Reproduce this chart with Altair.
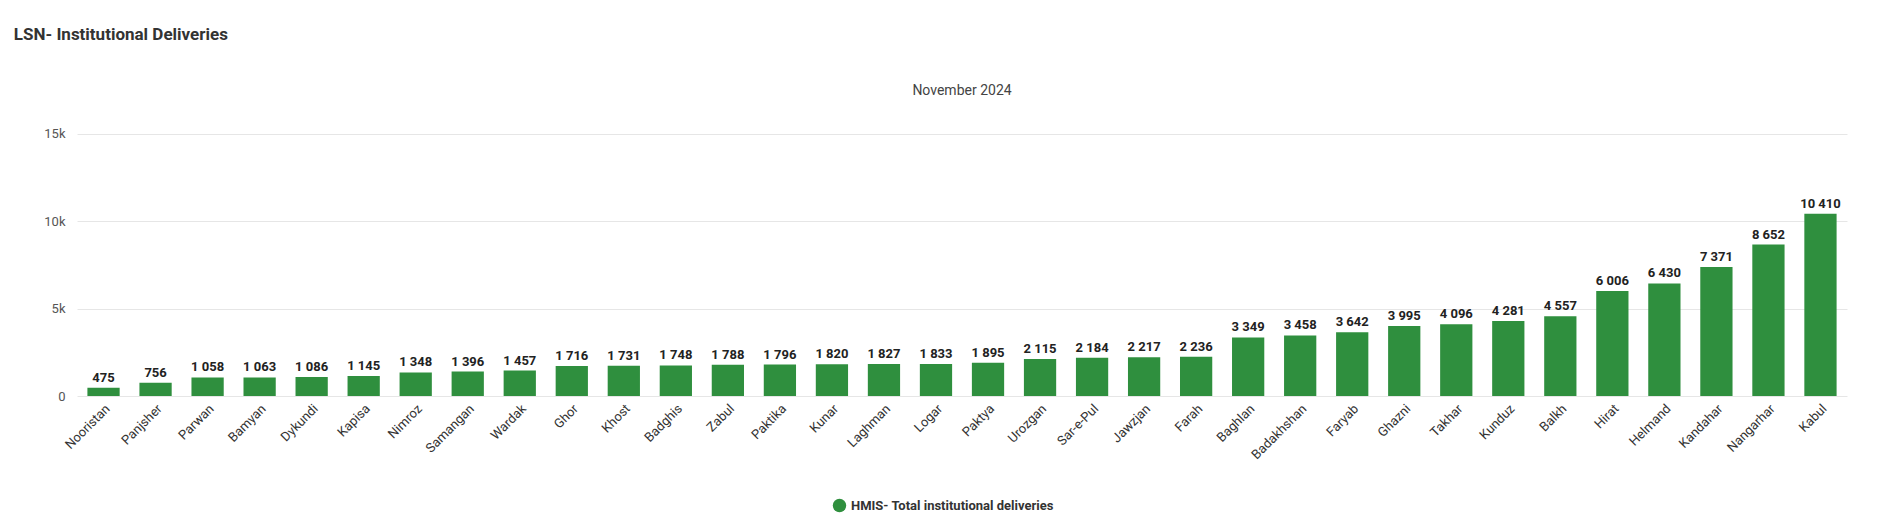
import altair as alt
import pandas as pd

provinces = ["Nooristan","Panjsher","Parwan","Bamyan","Dykundi","Kapisa","Nimroz","Samangan","Wardak","Ghor","Khost","Badghis","Zabul","Paktika","Kunar","Laghman","Logar","Paktya","Urozgan","Sar-e-Pul","Jawzjan","Farah","Baghlan","Badakhshan","Faryab","Ghazni","Takhar","Kunduz","Balkh","Hirat","Helmand","Kandahar","Nangarhar","Kabul"]
values = [475,756,1058,1063,1086,1145,1348,1396,1457,1716,1731,1748,1788,1796,1820,1827,1833,1895,2115,2184,2217,2236,3349,3458,3642,3995,4096,4281,4557,6006,6430,7371,8652,10410]
series = "HMIS- Total institutional deliveries"

df = pd.DataFrame({"province": provinces, "value": values})
df["label"] = [f"{v:,}".replace(",", " ") for v in values]
df["series"] = series

W, H = 1760, 262
W, H = 1770, 280
font = "Roboto"
xenc = alt.X("province:N", sort=provinces, title=None,
             axis=alt.Axis(labelAngle=-45, labelFontSize=13, labelColor="#333", labelFont=font,
                           domain=False, ticks=False, labelPadding=6),
             scale=alt.Scale(paddingInner=0.38, paddingOuter=0.2))
yenc = alt.Y("value:Q", title=None, scale=alt.Scale(domain=[0, 15000]),
             axis=alt.Axis(values=[0, 5000, 10000, 15000], labelExpr="datum.value==0?'0':datum.value/1000+'k'",
                           labelFontSize=13, labelColor="#555", labelFont=font, domain=False, ticks=False,
                           gridColor="#e6e6e6", labelPadding=12))

bars = alt.Chart(df).mark_bar(color="#2f8f3e").encode(
    x=xenc, y=yenc,
    color=alt.Color("series:N", scale=alt.Scale(range=["#2f8f3e"]), title=None,
                    legend=alt.Legend(orient="none", legendX=W / 2 - 130, legendY=H + 102,
                                      symbolType="circle", symbolSize=180, labelLimit=0,
                                      labelFontSize=13, labelFont=font, labelColor="#333",
                                      labelFontWeight="bold")))
text = alt.Chart(df).mark_text(dy=-10, fontSize=13, fontWeight="bold", font=font, color="#222").encode(
    x=alt.X("province:N", sort=provinces), y="value:Q", text="label:N")
sub = alt.Chart(pd.DataFrame({"t": ["November 2024"]})).mark_text(
    fontSize=14, font=font, color="#444").encode(x=alt.value(W / 2), y=alt.value(-25), text="t:N")

chart = alt.layer(bars, text, sub).properties(
    width=W, height=H,
    title=alt.TitleParams("LSN- Institutional Deliveries", anchor="start", fontSize=17, font=font,
                          fontWeight="bold", color="#333", offset=40, dx=-30),
    padding={"left": 5, "top": 18, "right": 20, "bottom": 10},
    background="white"
).configure_view(stroke=None)

chart.save("out.html", embed_options={"renderer": "svg", "actions": False})
